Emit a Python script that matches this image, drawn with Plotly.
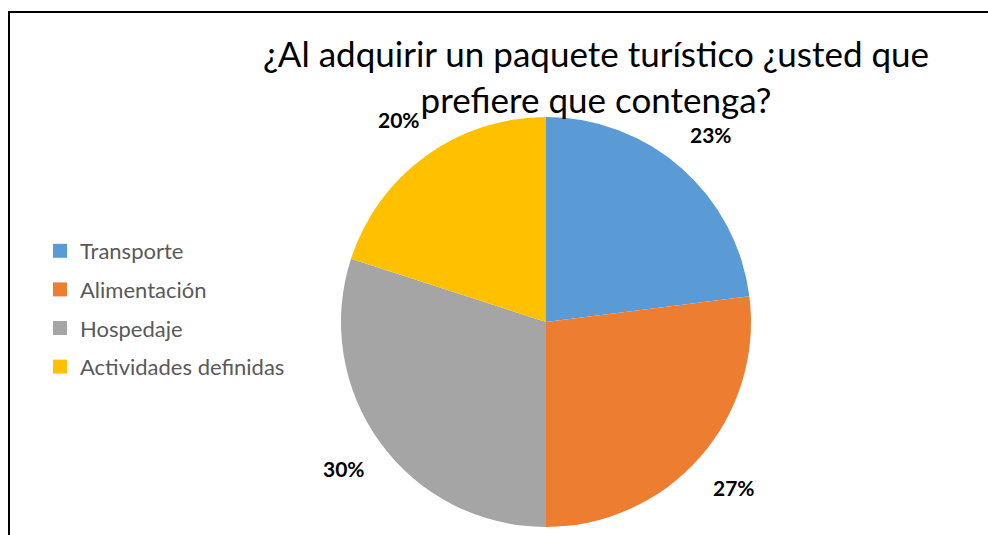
import math
import plotly.graph_objects as go

# Survey answers: what a tourist package should include
categorias = ["Transporte", "Alimentación", "Hospedaje", "Actividades definidas"]
porcentajes = [23, 27, 30, 20]
colores = ["#5B9BD5", "#ED7D31", "#A5A5A5", "#FFC000"]

titulo = "¿Al adquirir un paquete turístico ¿usted que<br>prefiere que contenga?"

W, H = 988, 535
CX, CY, R = 546, 322, 205          # pie centre and radius, in pixels
R_LABEL = 250                      # distance of the percent labels from the centre

fig = go.Figure()

fig.add_trace(go.Pie(
    labels=categorias,
    values=porcentajes,
    marker=dict(colors=colores, line=dict(width=0)),
    sort=False,
    direction="clockwise",
    rotation=0,
    textinfo="none",
    showlegend=False,
    hoverinfo="label+percent",
    domain=dict(x=[(CX - R) / W, (CX + R) / W],
                y=[(H - CY - R) / H, (H - CY + R) / H]),
))

# Percent labels placed outside each slice, at the slice's mid angle
total = sum(porcentajes)
acum = 0
anotaciones = []
for v in porcentajes:
    medio = (acum + v / 2) / total * 2 * math.pi   # clockwise from 12 o'clock
    acum += v
    px = CX + R_LABEL * math.sin(medio)
    py = CY - R_LABEL * math.cos(medio)
    anotaciones.append(dict(
        x=px / W, y=1 - py / H, xref="paper", yref="paper",
        text=f"{round(v / total * 100)}%", showarrow=False,
        xanchor="center", yanchor="middle",
        font=dict(family="Lato", size=21, color="#000000", weight="bold"),
    ))

anotaciones.append(dict(
    x=596 / W, y=1 - 76 / H, xref="paper", yref="paper",
    text=titulo, showarrow=False, xanchor="center", yanchor="middle",
    font=dict(family="Lato", size=35, color="#000000"),
))

# Legend entries, one group per category so the spacing can be set
for nombre, color in zip(categorias, colores):
    fig.add_trace(go.Scatter(
        x=[None], y=[None], mode="markers", name=nombre,
        legendgroup=nombre,
        marker=dict(symbol="square", size=14, color=color),
    ))

fig.update_layout(
    width=W, height=H,
    margin=dict(l=0, r=0, t=0, b=0),
    paper_bgcolor="white",
    plot_bgcolor="white",
    xaxis=dict(visible=False),
    yaxis=dict(visible=False),
    annotations=anotaciones,
    legend=dict(
        x=40 / W, xanchor="left",
        y=1 - 230 / H, yanchor="top",
        font=dict(family="Lato", size=22, color="#595959"),
        tracegroupgap=7,
        itemwidth=30,
        bgcolor="rgba(0,0,0,0)",
    ),
    shapes=[
        dict(type="line", xref="paper", yref="paper",
             x0=8 / W, x1=1, y0=1 - 12 / H, y1=1 - 12 / H,
             line=dict(color="black", width=2)),
        dict(type="line", xref="paper", yref="paper",
             x0=9 / W, x1=9 / W, y0=1 - 12 / H, y1=0,
             line=dict(color="black", width=2)),
    ],
)

fig.write_html("out.html")
